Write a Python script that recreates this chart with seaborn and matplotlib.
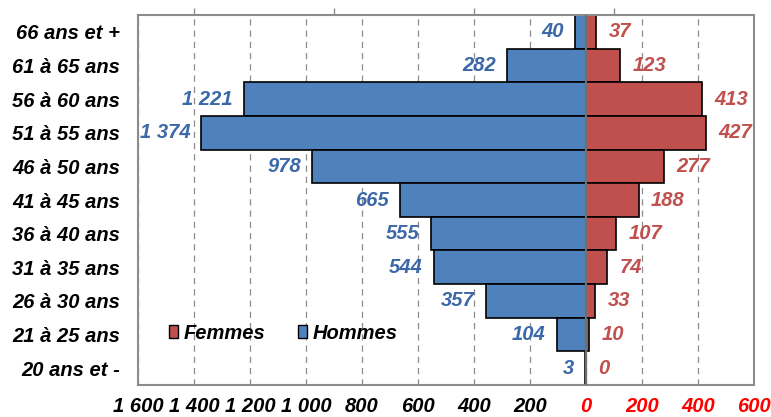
import matplotlib
matplotlib.use("Agg")
import matplotlib.pyplot as plt
import seaborn as sns
import pandas as pd
from matplotlib.patches import Patch

categories = ["66 ans et +", "61 à 65 ans", "56 à 60 ans", "51 à 55 ans", "46 à 50 ans",
              "41 à 45 ans", "36 à 40 ans", "31 à 35 ans", "26 à 30 ans", "21 à 25 ans",
              "20 ans et -"]
hommes = [40, 282, 1221, 1374, 978, 665, 555, 544, 357, 104, 3]
femmes = [37, 123, 413, 427, 277, 188, 107, 74, 33, 10, 0]
xticks = [-1600, -1400, -1200, -1000, -800, -600, -400, -200, 0, 200, 400, 600]

BLUE = "#4F81BD"
RED = "#C0504D"
BLUE_TXT = "#3B68A8"
RED_TXT = "#C0504D"

sns.set_style("white")
plt.rcParams['font.family'] = ['Liberation Sans', 'DejaVu Sans']
plt.rcParams['text.color'] = 'black'
plt.rcParams['xtick.color'] = 'black'
plt.rcParams['ytick.color'] = 'black'

def fmt(v):
    return f"{abs(int(v)):,}".replace(",", " ")

df_h = pd.DataFrame({"cat": categories, "val": [-v for v in hommes]})
df_f = pd.DataFrame({"cat": categories, "val": femmes})

fig = plt.figure(figsize=(7.71, 4.17), dpi=100)
ax = fig.add_axes([138/771, 32/417, 616/771, 370/417])

ax.set_xlim(-1600, 600)
for t in xticks:
    ax.axvline(t, color="#8c8c8c", lw=0.9, ls=(0, (5, 4)), zorder=0)

sns.barplot(data=df_h, x="val", y="cat", order=categories, orient="h", color=BLUE,
            saturation=1, width=1.0, edgecolor="black", linewidth=1.2, ax=ax, zorder=2)
sns.barplot(data=df_f, x="val", y="cat", order=categories, orient="h", color=RED,
            saturation=1, width=1.0, edgecolor="black", linewidth=1.2, ax=ax, zorder=2)
ax.axvline(0, color="#6f6f6f", lw=1.6, zorder=3)
ax.set_ylim(len(categories) - 0.5, -0.5)

fs = 14.5
for i, (h, f) in enumerate(zip(hommes, femmes)):
    ax.annotate(fmt(h), (-h, i), xytext=(-8, 0), textcoords="offset points",
                ha="right", va="center", color=BLUE_TXT, fontsize=fs,
                fontweight="bold", fontstyle="italic")
    ax.annotate(fmt(f), (f, i), xytext=(9, 0), textcoords="offset points",
                ha="left", va="center", color=RED_TXT, fontsize=fs,
                fontweight="bold", fontstyle="italic")

ax.set_xticks(xticks)
ax.set_xticklabels([fmt(t) for t in xticks], fontsize=fs, fontweight="bold", fontstyle="italic")
for lab, t in zip(ax.get_xticklabels(), xticks):
    lab.set_color("#FF0000" if t >= 0 else "black")
ax.tick_params(axis="x", direction="out", length=5, width=1, color="#8c8c8c", pad=4)
ax.tick_params(axis="y", length=0, pad=13)
ax.set_yticks(range(len(categories)))
ax.set_yticklabels(categories, fontsize=fs, fontweight="bold", fontstyle="italic")
ax.set_xlabel("")
ax.set_ylabel("")

for s in ax.spines.values():
    s.set_color("#8c8c8c")
    s.set_linewidth(1.5)
    s.set_visible(True)

sec = ax.secondary_xaxis("top")
sec.set_xticks([-1400, -900, -400, 100])
sec.set_xticklabels([])
sec.tick_params(direction="out", length=5, width=1, color="#8c8c8c")
sec.spines["top"].set_visible(False)

handles = [Patch(facecolor=RED, edgecolor="black", label="Femmes"),
           Patch(facecolor=BLUE, edgecolor="black", label="Hommes")]
leg = ax.legend(handles=handles, loc="center left", bbox_to_anchor=(0.05, 0.14),
                ncol=2, frameon=False, handlelength=0.45, handleheight=0.65,
                handletextpad=0.3, columnspacing=1.6, borderpad=0, borderaxespad=0,
                prop={"size": fs, "weight": "bold", "style": "italic"})

fig.savefig("out.png", dpi=100)
